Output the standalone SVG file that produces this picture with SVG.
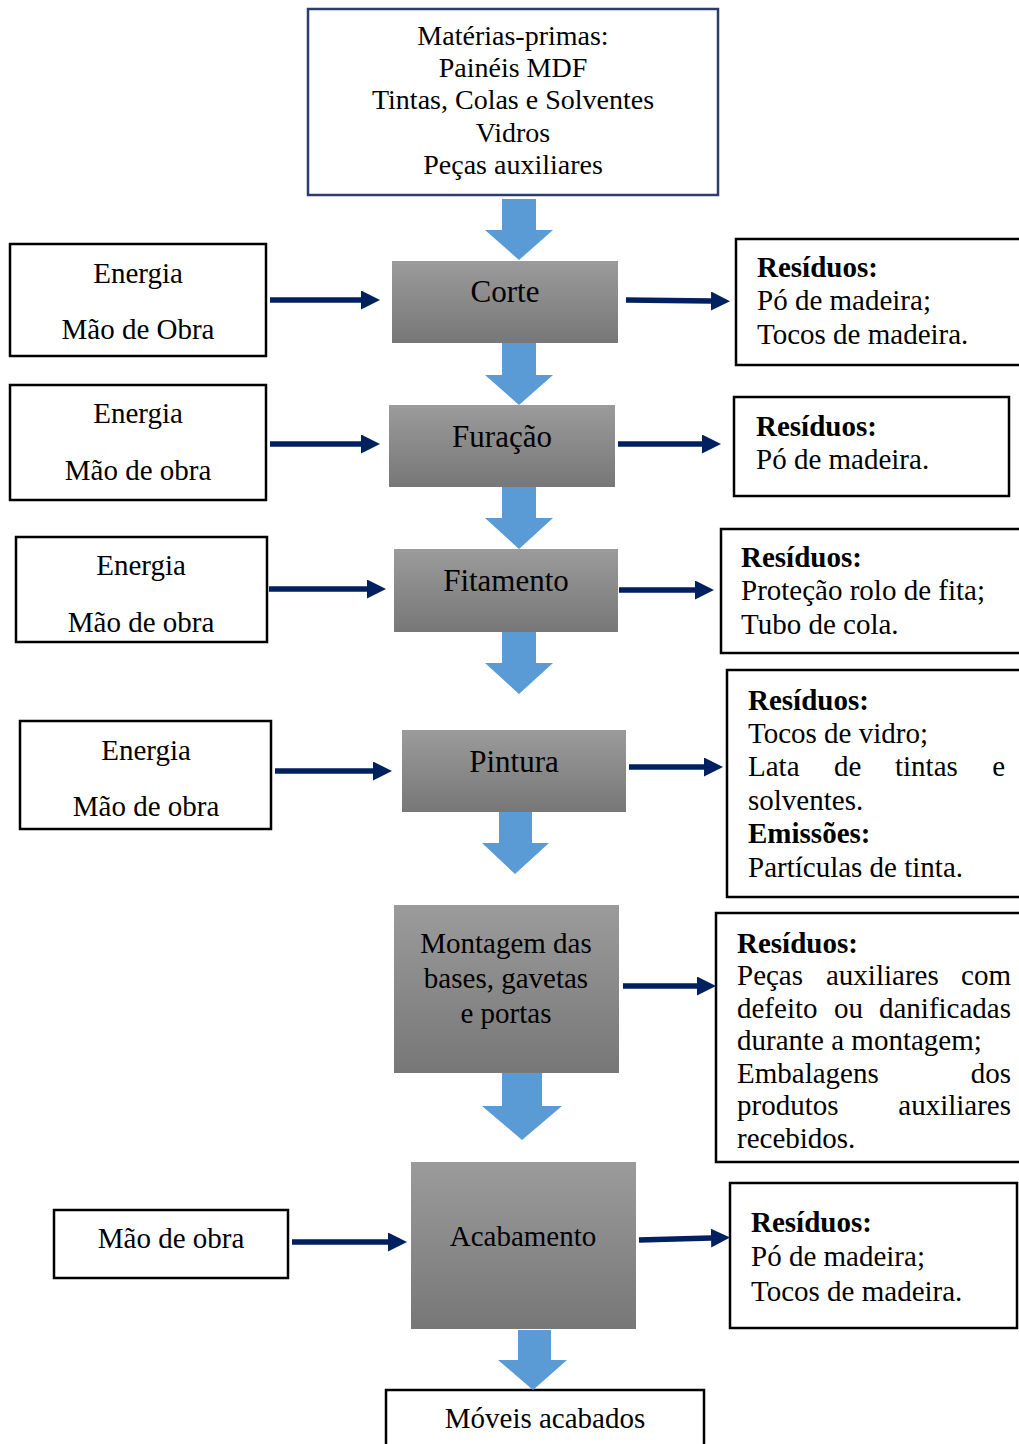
<svg xmlns="http://www.w3.org/2000/svg" width="1019" height="1444" viewBox="0 0 1019 1444">
<style>
text{font-family:"Liberation Serif","Times New Roman",serif;fill:#000}
.t28{font-size:28px}
.t29{font-size:29px}
.t31{font-size:31px}
.c{text-anchor:middle}
.e{text-anchor:end}
.b{font-weight:bold}
.box{fill:#fff;stroke:#000;stroke-width:2.5}
.top{fill:#fff;stroke:#2B3D6B;stroke-width:2.5}
.proc{fill:url(#g)}
.blk{fill:#5B9BD5}
.ln{stroke:#002060;stroke-width:5.5;fill:none;marker-end:url(#ah)}
</style>
<defs>
<linearGradient id="g" x1="0" y1="0" x2="0" y2="1">
<stop offset="0" stop-color="#9b9b9b"/>
<stop offset="1" stop-color="#777"/>
</linearGradient>
<marker id="ah" markerUnits="userSpaceOnUse" markerWidth="20" markerHeight="20" refX="0" refY="9.5" orient="auto" viewBox="0 0 20 20">
<path d="M0,0 L19,9.5 L0,19 z" fill="#002060"/>
</marker>
</defs>

<g id="materias">
<rect class="top" x="308" y="9" width="410" height="186"/>
<text class="t28 c" x="513" y="45">Matérias-primas:</text>
<text class="t28 c" x="513" y="77">Painéis MDF</text>
<text class="t28 c" x="513" y="109">Tintas, Colas e Solventes</text>
<text class="t28 c" x="513" y="142">Vidros</text>
<text class="t28 c" x="513" y="174">Peças auxiliares</text>
</g>

<g id="in1"><rect class="box" x="10" y="244" width="256" height="112"/>
<text class="t29 c" x="138" y="283">Energia</text><text class="t29 c" x="138" y="339">Mão de Obra</text></g>
<g id="in2"><rect class="box" x="10" y="385" width="256" height="115"/>
<text class="t29 c" x="138" y="423">Energia</text><text class="t29 c" x="138" y="480">Mão de obra</text></g>
<g id="in3"><rect class="box" x="16" y="537" width="251" height="105"/>
<text class="t29 c" x="141" y="575">Energia</text><text class="t29 c" x="141" y="632">Mão de obra</text></g>
<g id="in4"><rect class="box" x="20" y="721" width="251" height="108"/>
<text class="t29 c" x="146" y="760">Energia</text><text class="t29 c" x="146" y="816">Mão de obra</text></g>
<g id="in5"><rect class="box" x="54" y="1210" width="234" height="68"/>
<text class="t29 c" x="171" y="1248">Mão de obra</text></g>

<g id="corte"><rect class="proc" x="392" y="261" width="226" height="82"/>
<text class="t31 c" x="505" y="302">Corte</text></g>
<g id="furacao"><rect class="proc" x="389" y="405" width="226" height="82"/>
<text class="t31 c" x="502" y="447">Furação</text></g>
<g id="fitamento"><rect class="proc" x="394" y="549" width="224" height="83"/>
<text class="t31 c" x="506" y="591">Fitamento</text></g>
<g id="pintura"><rect class="proc" x="402" y="730" width="224" height="82"/>
<text class="t31 c" x="514" y="772">Pintura</text></g>
<g id="montagem"><rect class="proc" x="394" y="905" width="225" height="168"/>
<text class="t29 c" x="506" y="953">Montagem das</text>
<text class="t29 c" x="506" y="988">bases, gavetas</text>
<text class="t29 c" x="506" y="1023">e portas</text></g>
<g id="acabamento"><rect class="proc" x="411" y="1162" width="225" height="167"/>
<text class="t29 c" x="523" y="1246">Acabamento</text></g>

<g id="moveis"><rect class="box" x="386" y="1390" width="318" height="70"/>
<text class="t29 c" x="545" y="1428">Móveis acabados</text></g>

<g id="out1"><rect class="box" x="736" y="239" width="300" height="126"/>
<text class="t29 b" x="757" y="277">Resíduos:</text>
<text class="t29" x="757" y="310">Pó de madeira;</text>
<text class="t29" x="757" y="344">Tocos de madeira.</text></g>
<g id="out2"><rect class="box" x="734" y="397" width="275" height="99"/>
<text class="t29 b" x="756" y="436">Resíduos:</text>
<text class="t29" x="756" y="469">Pó de madeira.</text></g>
<g id="out3"><rect class="box" x="721" y="529" width="315" height="124"/>
<text class="t29 b" x="741" y="567">Resíduos:</text>
<text class="t29" x="741" y="600">Proteção rolo de fita;</text>
<text class="t29" x="741" y="634">Tubo de cola.</text></g>
<g id="out4"><rect class="box" x="727" y="670" width="310" height="227"/>
<text class="t29 b" x="748" y="710">Resíduos:</text>
<text class="t29" x="748" y="743">Tocos de vidro;</text>
<text class="t29" x="748" y="776">Lata</text><text class="t29" x="834" y="776">de</text><text class="t29" x="895" y="776">tintas</text><text class="t29 e" x="1005" y="776">e</text>
<text class="t29" x="748" y="810">solventes.</text>
<text class="t29 b" x="748" y="843">Emissões:</text>
<text class="t29" x="748" y="877">Partículas de tinta.</text></g>
<g id="out5"><rect class="box" x="716" y="913" width="320" height="249"/>
<text class="t29 b" x="737" y="953">Resíduos:</text>
<text class="t29" x="737" y="985">Peças</text><text class="t29" x="826" y="985">auxiliares</text><text class="t29 e" x="1011" y="985">com</text>
<text class="t29" x="737" y="1018">defeito</text><text class="t29" x="834" y="1018">ou</text><text class="t29 e" x="1011" y="1018">danificadas</text>
<text class="t29" x="737" y="1050">durante a montagem;</text>
<text class="t29" x="737" y="1083">Embalagens</text><text class="t29 e" x="1011" y="1083">dos</text>
<text class="t29" x="737" y="1115">produtos</text><text class="t29 e" x="1011" y="1115">auxiliares</text>
<text class="t29" x="737" y="1148">recebidos.</text></g>
<g id="out6"><rect class="box" x="730" y="1183" width="287" height="145"/>
<text class="t29 b" x="751" y="1232">Resíduos:</text>
<text class="t29" x="751" y="1266">Pó de madeira;</text>
<text class="t29" x="751" y="1301">Tocos de madeira.</text></g>

<g id="connectors">
<polygon class="blk" points="502,199 536,199 536,230 553,230 519,260 485,230 502,230"/>
<polygon class="blk" points="502,343 536,343 536,375 553,375 519,405 485,375 502,375"/>
<polygon class="blk" points="502,487 536,487 536,518 553,518 519,549 485,518 502,518"/>
<polygon class="blk" points="502,632 536,632 536,663 553,663 519,694 485,663 502,663"/>
<polygon class="blk" points="499,812 532,812 532,843 549,843 515,874 482,843 499,843"/>
<polygon class="blk" points="502,1073 542,1073 542,1106 562,1106 522,1140 482,1106 502,1106"/>
<polygon class="blk" points="518,1330 551,1330 551,1360 567,1360 533,1390 498,1360 518,1360"/>
<line class="ln" x1="270" y1="300" x2="361" y2="300"/>
<line class="ln" x1="270" y1="444" x2="361" y2="444"/>
<line class="ln" x1="269" y1="589" x2="367" y2="589"/>
<line class="ln" x1="275" y1="771" x2="373" y2="771"/>
<line class="ln" x1="292" y1="1242" x2="388" y2="1242"/>
<line class="ln" x1="626" y1="300" x2="711" y2="301"/>
<line class="ln" x1="618" y1="444" x2="702" y2="444"/>
<line class="ln" x1="619" y1="590" x2="695" y2="590"/>
<line class="ln" x1="629" y1="767" x2="704" y2="767"/>
<line class="ln" x1="623" y1="986" x2="697" y2="986"/>
<line class="ln" x1="639" y1="1240" x2="711" y2="1238"/>
</g>
</svg>
